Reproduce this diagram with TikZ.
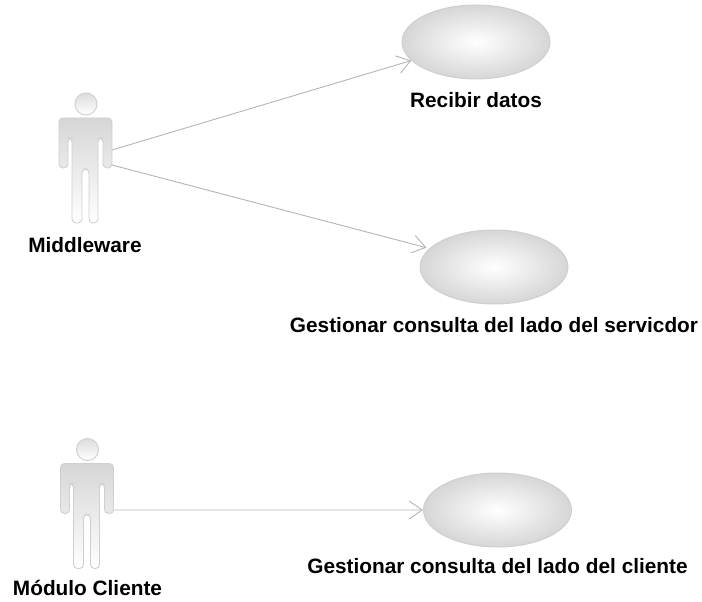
\documentclass[tikz,border=0pt]{standalone}
\usepackage{fontspec}
\setmainfont{Liberation Sans}
\usetikzlibrary{arrows.meta,shapes.geometric}
\definecolor{edgegrey}{HTML}{B4B4B4}
\definecolor{rimgrey}{HTML}{CFCFCF}
\definecolor{fillgrey}{HTML}{D6D6D6}
\tikzset{
  usecase/.style={ellipse,draw=rimgrey,line width=1bp,inner color=white,outer color=fillgrey,
    minimum width=148bp,minimum height=74bp,inner sep=0pt},
  caption/.style={font=\bfseries\fontsize{20.8bp}{24bp}\selectfont,text=black,inner sep=0pt,anchor=center},
  assoc/.style={draw=edgegrey,line width=.9bp,-{Straight Barb[length=13bp,width=18bp,line width=.9bp]}},
  actorpart/.style={draw=rimgrey,line width=.9bp,top color=fillgrey,bottom color=white},
  pics/actor/.style={code={
    \path[actorpart,top color=fillgrey!85] (86,104) circle (11);
    \path[actorpart,rounded corners=4] (59,118) -- (112,118) -- (112,168) -- (103,168) -- (103,138)
      -- (98,138) -- (98,223) -- (89,223) -- (89,169) -- (82,169) -- (82,223) -- (72,223)
      -- (72,138) -- (68,138) -- (68,168) -- (59,168) -- cycle;
    \coordinate (-upper) at (112,150);
    \coordinate (-lower) at (112,165);
    \coordinate (-hand) at (112,164.5);
  }}
}
\begin{document}
\begin{tikzpicture}[x=1bp,y=-1bp]
  \useasboundingbox (0,0) rectangle (702,602);
  \pic (mid) at (0,0) {actor};
  \pic (cli) at (1.5,345.5) {actor};
  \node[caption] (midlabel) at (85,245) {Middleware};
  \node[caption] (clilabel) at (87.5,588) {Módulo Cliente};
  \node[usecase] (recibir) at (476,42) {};
  \node[usecase] (servidor) at (494,267) {};
  \node[usecase] (cliente) at (497.5,510) {};
  \node[caption] (recibirlabel) at (476,100) {Recibir datos};
  \node[caption] (servidorlabel) at (494,325) {Gestionar consulta del lado del servicdor};
  \node[caption] (clientelabel) at (497.5,566) {Gestionar consulta del lado del cliente};
  \draw[assoc] (mid-upper) -- (recibir.196);
  \draw[assoc,shorten >=3bp] (mid-lower) -- (servidor.164);
  \draw[assoc] (cli-hand) -- (cliente.west);
\end{tikzpicture}
\end{document}
